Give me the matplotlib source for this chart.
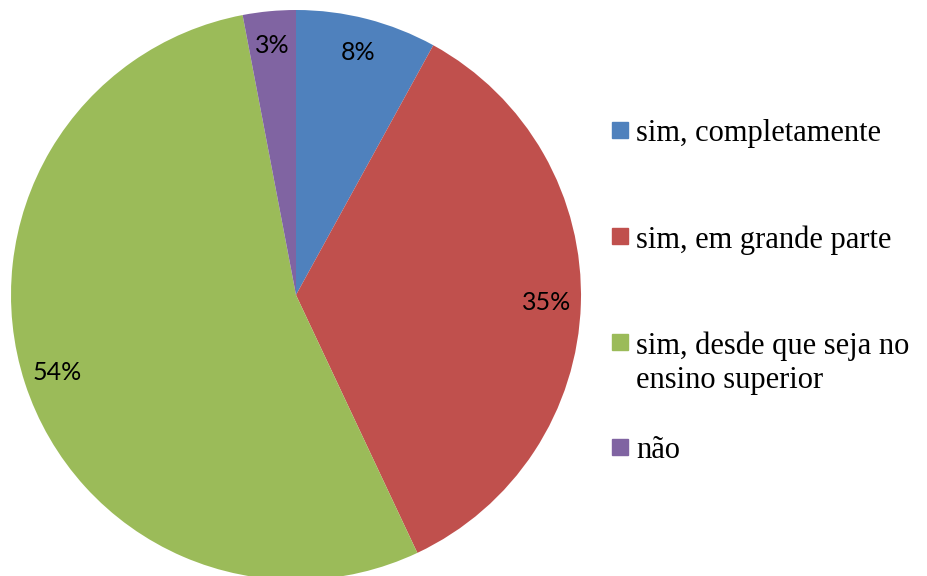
import matplotlib.pyplot as plt
from matplotlib.patches import Rectangle

labels = ["sim, completamente", "sim, em grande parte",
          "sim, desde que seja no\nensino superior", "não"]
values = [8, 35, 54, 3]
colors = ["#4F81BD", "#C0504D", "#9BBB59", "#8064A2"]

W, H = 927, 576
fig = plt.figure(figsize=(W / 100, H / 100), dpi=100)
ax = fig.add_axes([0, 0, 1, 1])

# pie centre at pixel (296, 295), radius 285 px
cx, cy, r = 296, 295, 285
ax.pie(values, colors=colors, startangle=90, counterclock=False,
       autopct='%.0f%%', pctdistance=0.88,
       textprops={'family': 'Lato', 'fontsize': 18, 'color': 'black'})
ax.set_xlim(-cx / r, (W - cx) / r)
ax.set_ylim(-(H - cy) / r, cy / r)
ax.set_aspect('auto')
ax.axis('off')

# legend drawn by hand (pixel positions from the top-left)
sq_y = [130, 236, 342, 447]
txt_y = [134, 240, 363, 450]
for lab, col, sy, ty in zip(labels, colors, sq_y, txt_y):
    fig.patches.append(Rectangle((612 / W, 1 - (sy + 8) / H), 16 / W, 16 / H,
                                 transform=fig.transFigure, color=col))
    fig.text(636 / W, 1 - ty / H, lab, family='Liberation Serif', fontsize=22,
             va='center', ha='left', linespacing=1.22)

fig.savefig('out.png', dpi=100, facecolor='white')
